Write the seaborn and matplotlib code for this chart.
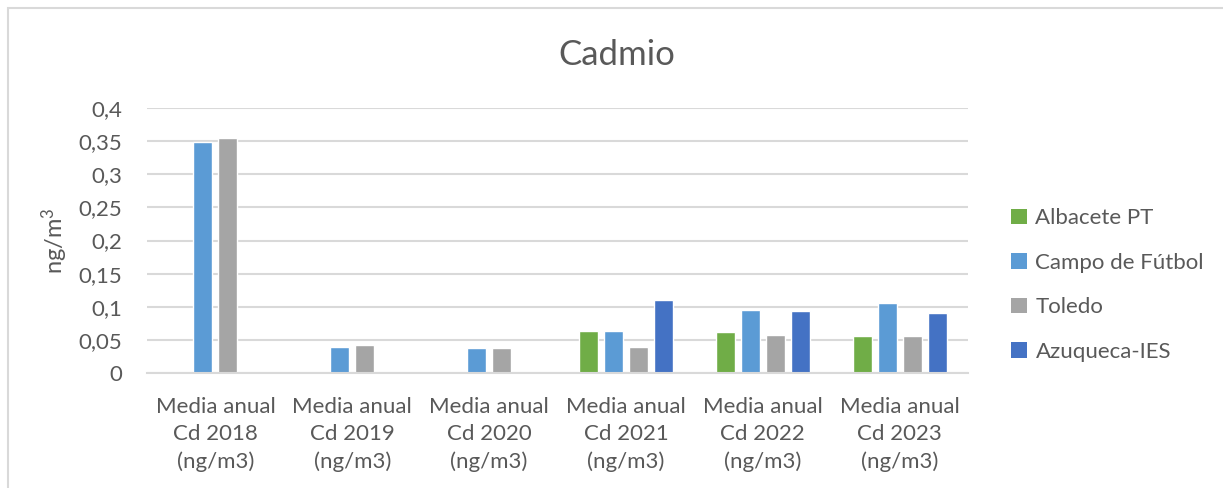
import numpy as np
import pandas as pd
import matplotlib
matplotlib.use("Agg")
import matplotlib.pyplot as plt
from matplotlib.patches import Rectangle, Patch
import seaborn as sns

categories = [
    "Media anual\nCd 2018\n(ng/m3)",
    "Media anual\nCd 2019\n(ng/m3)",
    "Media anual\nCd 2020\n(ng/m3)",
    "Media anual\nCd 2021\n(ng/m3)",
    "Media anual\nCd 2022\n(ng/m3)",
    "Media anual\nCd 2023\n(ng/m3)",
]
stations = ["Albacete PT", "Campo de Fútbol", "Toledo", "Azuqueca-IES"]
albacete = [np.nan, np.nan, np.nan, 0.063, 0.062, 0.056]
campo = [0.348, 0.040, 0.037, 0.064, 0.095, 0.105]
toledo = [0.354, 0.042, 0.038, 0.039, 0.057, 0.056]
azuqueca = [np.nan, np.nan, np.nan, 0.110, 0.093, 0.091]
colors = ["#70AD47", "#5B9BD5", "#A5A5A5", "#4472C4"]
yticks = [0, 0.05, 0.1, 0.15, 0.2, 0.25, 0.3, 0.35, 0.4]
ytick_labels = ["0", "0,05", "0,1", "0,15", "0,2", "0,25", "0,3", "0,35", "0,4"]

rows = []
for name, vals in zip(stations, [albacete, campo, toledo, azuqueca]):
    for cat, v in zip(categories, vals):
        rows.append({"cat": cat, "station": name, "value": v})
df = pd.DataFrame(rows)

sns.set_theme(style="white")
plt.rcParams["font.family"] = ["Lato", "DejaVu Sans"]
plt.rcParams["mathtext.fontset"] = "custom"
plt.rcParams["mathtext.rm"] = "Lato"
text_color = "#595959"

fig = plt.figure(figsize=(12.23, 4.88), dpi=100)
ax = fig.add_axes([147 / 1223, 1 - 373 / 488, (968 - 147) / 1223, (373 - 108) / 488])

sns.barplot(data=df, x="cat", y="value", hue="station", order=categories,
            hue_order=stations, palette=colors, width=0.73, gap=0.24,
            saturation=1, ax=ax, legend=False)

ax.set_ylim(0, 0.4)
ax.set_xlim(-0.5, len(categories) - 0.5)
ax.set_yticks(yticks)
ax.set_yticklabels(ytick_labels)
ax.yaxis.grid(True, color="#D9D9D9", linewidth=1.5)
ax.set_axisbelow(True)
for s in ["top", "right", "left"]:
    ax.spines[s].set_visible(False)
ax.spines["bottom"].set_color("#D9D9D9")
ax.spines["bottom"].set_linewidth(1.5)
ax.tick_params(axis="both", length=0, colors=text_color, labelsize=16)
ax.tick_params(axis="y", pad=18)
ax.tick_params(axis="x", pad=17)
for lab in ax.get_xticklabels():
    lab.set_linespacing(1.45)
ax.set_xlabel("")
ax.set_ylabel(r"ng/m$\mathregular{^3}$", fontsize=17, color=text_color, labelpad=6)

fig.text(617 / 1223, 1 - 55 / 488, "Cadmio", ha="center", va="center",
         fontsize=25, color=text_color)

handles = [Patch(facecolor=c, edgecolor="none") for c in colors]
fig.legend(handles, stations, loc="center left",
           bbox_to_anchor=(991 / 1223, 1 - 285 / 488), frameon=False,
           fontsize=16, labelcolor=text_color, handlelength=0.7,
           handleheight=0.7, handletextpad=0.4, labelspacing=1.1)

fig.patches.append(Rectangle((8 / 1223, -0.1), 1.2, 1 - 8 / 488 + 0.1,
                             transform=fig.transFigure, fill=False,
                             edgecolor="#D9D9D9", linewidth=1.5))

fig.savefig("out.png", dpi=100)
